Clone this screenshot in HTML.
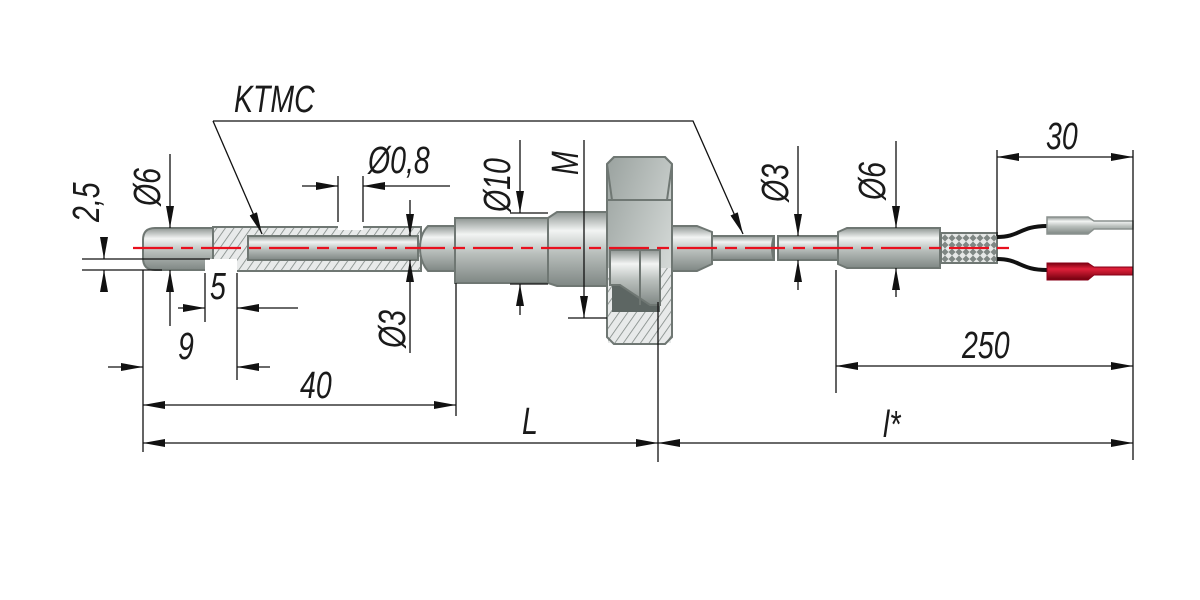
<!DOCTYPE html>
<html><head><meta charset="utf-8"><style>
html,body{margin:0;padding:0;background:#fff;}
svg{display:block;}
text{font-family:"Liberation Sans",sans-serif;font-style:italic;fill:#1a1a1a;}
</style></head><body>
<svg width="1200" height="600" viewBox="0 0 1200 600" xmlns="http://www.w3.org/2000/svg">
<defs>
<linearGradient id="met" x1="0" y1="0" x2="0" y2="1">
<stop offset="0" stop-color="#8e9592"/><stop offset="0.25" stop-color="#f2f4f3"/><stop offset="0.55" stop-color="#b9bfbc"/><stop offset="1" stop-color="#7f8784"/>
</linearGradient>
<linearGradient id="nut" x1="0" y1="0" x2="1" y2="1">
<stop offset="0" stop-color="#9aa29f"/><stop offset="1" stop-color="#e4e8e6"/>
</linearGradient>
<linearGradient id="red" x1="0" y1="0" x2="0" y2="1">
<stop offset="0" stop-color="#7a0010"/><stop offset="0.35" stop-color="#e0203a"/><stop offset="1" stop-color="#70000e"/>
</linearGradient>
<pattern id="hatch" width="7" height="7" patternUnits="userSpaceOnUse" patternTransform="rotate(35)">
<rect width="7" height="7" fill="#e8eaea"/><line x1="0" y1="0" x2="0" y2="7" stroke="#7f8784" stroke-width="1.6"/>
</pattern>
<pattern id="braid" width="7" height="7" patternUnits="userSpaceOnUse">
<rect width="7" height="7" fill="#7f8784"/><path d="M0 3.5 L3.5 0 L7 3.5 L3.5 7Z" fill="#e6e8e7"/>
</pattern>
<marker id="ar" markerWidth="22" markerHeight="8" refX="22" refY="4" orient="auto-start-reverse" markerUnits="userSpaceOnUse">
<path d="M0 0 L22 4 L0 8Z" fill="#111"/></marker>
</defs>

<g stroke="#6f7773" stroke-width="2">
<path d="M155 228 H215 V270 H155 Q143 270 143 258 V240 Q143 228 155 228Z" fill="url(#met)"/>
<rect x="213" y="227" width="208" height="44" fill="url(#hatch)"/>
<rect x="248" y="236" width="170" height="24" fill="url(#met)"/>
<rect x="205" y="259" width="32" height="14" fill="#fff" stroke="none"/>
<rect x="338" y="220" width="25" height="10" fill="#fff" stroke="none"/>
<path d="M428 226 H456 V271 H428 Q420 262 420 248 Q420 234 428 226Z" fill="url(#met)"/>
<rect x="455" y="218" width="93" height="65" fill="url(#met)"/>
<path d="M548 218 L557 212 H610 V286 H557 L548 283Z" fill="url(#met)"/>
<path d="M670 226 H697 L712 232 V264 L697 271 H670Z" fill="url(#met)"/>
<path d="M614 157 H665 L672 164 V337 L665 344 H614 L607 337 V164Z" fill="url(#nut)"/>
<path d="M607 200 H672" fill="none"/>
<path d="M607 164 L612 200 M672 164 L667 200" fill="none"/>
<rect x="608" y="268" width="63" height="75" fill="url(#hatch)" stroke="none"/>
<path d="M612 250 H660 V312 H612Z" fill="#5d6663" stroke="none"/>
<path d="M610 250 H660 V305 L650 305 L620 285 H610Z" fill="url(#met)"/>
<path d="M640 250 V305" fill="none"/>
<path d="M614 157 H665 L672 164 V337 L665 344 H614 L607 337 V164Z" fill="none"/>
<rect x="712" y="236" width="62" height="24" fill="url(#met)"/>
<path d="M774 236 Q770 248 774 260" fill="none"/>
<rect x="778" y="236" width="60" height="24" fill="url(#met)"/>
<path d="M838 232 L847 228 H940 V268 H847 L838 264Z" fill="url(#met)"/>
<rect x="941" y="233" width="56" height="30" fill="url(#braid)"/>
</g>
<path d="M997 237 C1020 237 1020 226 1047 226" stroke="#111" stroke-width="4" fill="none"/>
<path d="M997 259 C1020 259 1020 270 1047 270" stroke="#111" stroke-width="4" fill="none"/>
<path d="M1047 217 H1088 L1094 221 H1133 V229 H1094 L1088 234 H1047Z" fill="url(#met)" stroke="#8a918e" stroke-width="1.5"/>
<path d="M1047 263 H1088 L1094 267 H1133 V275 H1094 L1088 280 H1047Z" fill="url(#red)" stroke="#8a0018" stroke-width="1"/>
<line x1="133" y1="248" x2="1015" y2="248" stroke="#e8101e" stroke-width="2.2" stroke-dasharray="40 8 12 8"/>

<g stroke="#111" stroke-width="1.3" fill="none">
<path d="M213 121 H693 L743 234" marker-end="url(#ar)"/>
<path d="M213 121 L262 234" marker-end="url(#ar)"/>
<line x1="82" y1="259" x2="210" y2="259"/><line x1="82" y1="270" x2="162" y2="270"/>
<line x1="104" y1="237" x2="104" y2="259" marker-end="url(#ar)"/>
<line x1="104" y1="292" x2="104" y2="270" marker-end="url(#ar)"/>
<line x1="170" y1="154" x2="170" y2="228" marker-end="url(#ar)"/>
<line x1="170" y1="326" x2="170" y2="270" marker-end="url(#ar)"/>
<line x1="205" y1="273" x2="205" y2="322"/>
<line x1="178" y1="308" x2="205" y2="308" marker-end="url(#ar)"/>
<line x1="298" y1="308" x2="237" y2="308" marker-end="url(#ar)"/>
<line x1="143" y1="270" x2="143" y2="452"/>
<line x1="237" y1="273" x2="237" y2="380"/>
<line x1="108" y1="367" x2="143" y2="367" marker-end="url(#ar)"/>
<line x1="270" y1="367" x2="237" y2="367" marker-end="url(#ar)"/>
<line x1="338" y1="176" x2="338" y2="222"/><line x1="363" y1="176" x2="363" y2="222"/>
<line x1="302" y1="186" x2="338" y2="186" marker-end="url(#ar)"/>
<line x1="450" y1="186" x2="363" y2="186" marker-end="url(#ar)"/>
<line x1="410" y1="200" x2="410" y2="236" marker-end="url(#ar)"/>
<line x1="410" y1="353" x2="410" y2="260" marker-end="url(#ar)"/>
<line x1="456" y1="283" x2="456" y2="416"/>
<line x1="143" y1="405" x2="456" y2="405" marker-start="url(#ar)" marker-end="url(#ar)"/>
<line x1="510" y1="213" x2="548" y2="213"/><line x1="510" y1="284" x2="548" y2="284"/>
<line x1="520" y1="140" x2="520" y2="213" marker-end="url(#ar)"/>
<line x1="520" y1="315" x2="520" y2="284" marker-end="url(#ar)"/>
<line x1="584" y1="140" x2="584" y2="318" marker-end="url(#ar)"/>
<line x1="568" y1="318" x2="607" y2="318"/>
<line x1="658" y1="302" x2="658" y2="462"/>
<line x1="143" y1="443" x2="658" y2="443" marker-start="url(#ar)" marker-end="url(#ar)"/>
<line x1="658" y1="443" x2="1133" y2="443" marker-start="url(#ar)" marker-end="url(#ar)"/>
<line x1="1133" y1="150" x2="1133" y2="460"/>
<line x1="798" y1="146" x2="798" y2="236" marker-end="url(#ar)"/>
<line x1="798" y1="290" x2="798" y2="260" marker-end="url(#ar)"/>
<line x1="896" y1="141" x2="896" y2="228" marker-end="url(#ar)"/>
<line x1="896" y1="297" x2="896" y2="268" marker-end="url(#ar)"/>
<line x1="836" y1="270" x2="836" y2="393"/>
<line x1="836" y1="366" x2="1133" y2="366" marker-start="url(#ar)" marker-end="url(#ar)"/>
<line x1="997" y1="150" x2="997" y2="236"/>
<line x1="997" y1="157" x2="1133" y2="157" marker-start="url(#ar)" marker-end="url(#ar)"/>
</g>

<g font-size="38">
<text transform="translate(234,112) scale(0.75,1)">KTMC</text>
<text transform="translate(99,222) rotate(-90) scale(0.75,1)">2,5</text>
<text transform="translate(160,206) rotate(-90) scale(0.75,1)">Ø6</text>
<text transform="translate(210,299) scale(0.75,1)">5</text>
<text transform="translate(178,359) scale(0.75,1)">9</text>
<text transform="translate(368,173) scale(0.75,1)">Ø0,8</text>
<text transform="translate(405,348) rotate(-90) scale(0.75,1)">Ø3</text>
<text transform="translate(300,398) scale(0.75,1)">40</text>
<text transform="translate(510,212) rotate(-90) scale(0.75,1)">Ø10</text>
<text transform="translate(578,175) rotate(-90) scale(0.75,1)">M</text>
<text transform="translate(522,434) scale(0.75,1)">L</text>
<text transform="translate(788,202) rotate(-90) scale(0.75,1)">Ø3</text>
<text transform="translate(885,200) rotate(-90) scale(0.75,1)">Ø6</text>
<text transform="translate(1046,149) scale(0.75,1)">30</text>
<text transform="translate(962,358) scale(0.75,1)">250</text>
<text transform="translate(883,437) scale(0.75,1)">l*</text>
</g>
</svg>
</body></html>
